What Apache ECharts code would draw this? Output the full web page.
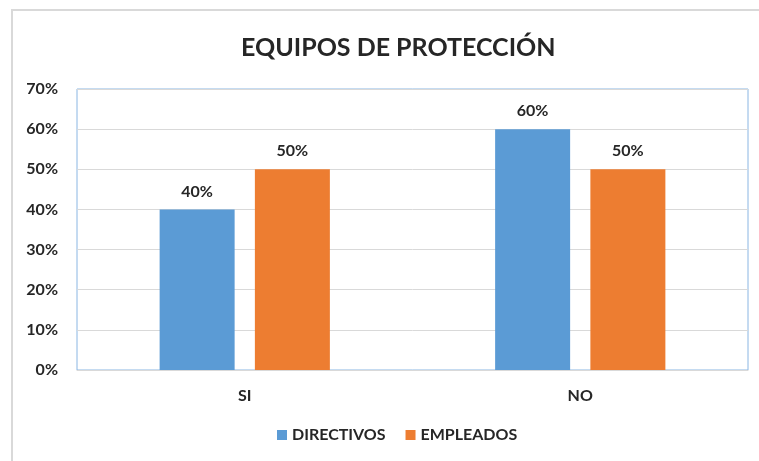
<!DOCTYPE html>
<html>
<head>
<meta charset="utf-8">
<script src="https://cdn.jsdelivr.net/npm/echarts@6/dist/echarts.min.js"></script>
<style>
  html, body { margin: 0; padding: 0; background: #fff; }
  #chart { width: 759px; height: 461px; }
</style>
</head>
<body>
<div id="chart"></div>
<script>
// datos del gráfico
var categorias = ['SI', 'NO'];
var directivos = [40, 60];
var empleados = [50, 50];
var yTicks = [0, 10, 20, 30, 40, 50, 60, 70];

var chart = echarts.init(document.getElementById('chart'));

var etiqueta = {
    show: true,
    position: 'top',
    distance: 10,
    formatter: '{c}%',
    color: '#262626',
    fontFamily: 'Lato',
    fontWeight: 'bold',
    fontSize: 16
};

var option = {
    backgroundColor: '#fff',
    textStyle: { fontFamily: 'Lato' },
    graphic: [{
        type: 'rect',
        shape: { x: 12, y: 10, width: 760, height: 470 },
        style: { fill: 'none', stroke: '#d9d9d9', lineWidth: 2 },
        silent: true
    }],
    title: {
        text: 'EQUIPOS DE PROTECCIÓN',
        left: 236,
        top: 30,
        textStyle: {
            fontFamily: 'Lato',
            fontWeight: 'bold',
            fontSize: 25,
            color: '#262626'
        }
    },
    grid: {
        left: 77,
        right: 11,
        top: 89,
        bottom: 91,
        show: true,
        borderColor: '#8ab6e3',
        borderWidth: 1,
        containLabel: false
    },
    legend: {
        bottom: 13,
        left: 272,
        itemWidth: 10,
        itemHeight: 10,
        itemGap: 20,
        icon: 'rect',
        textStyle: {
            fontFamily: 'Lato',
            fontWeight: 'bold',
            fontSize: 16,
            color: '#262626'
        },
        data: ['DIRECTIVOS', 'EMPLEADOS']
    },
    xAxis: {
        type: 'category',
        data: categorias,
        axisTick: { show: false },
        axisLine: { lineStyle: { color: '#d9d9d9' } },
        axisLabel: {
            margin: 18,
            fontFamily: 'Lato',
            fontWeight: 'bold',
            fontSize: 16,
            color: '#262626'
        }
    },
    yAxis: {
        type: 'value',
        min: yTicks[0],
        max: yTicks[yTicks.length - 1],
        interval: 10,
        axisLine: { show: false },
        axisTick: { show: false },
        splitLine: { lineStyle: { color: '#d9d9d9' } },
        axisLabel: {
            margin: 19,
            formatter: '{value}%',
            fontFamily: 'Lato',
            fontWeight: 'bold',
            fontSize: 16,
            color: '#262626'
        }
    },
    series: [{
        name: 'DIRECTIVOS',
        type: 'bar',
        data: directivos,
        barWidth: 75,
        barGap: '27%',
        itemStyle: { color: '#5b9bd5' },
        label: etiqueta
    }, {
        name: 'EMPLEADOS',
        type: 'bar',
        data: empleados,
        barWidth: 75,
        itemStyle: { color: '#ed7d31' },
        label: etiqueta
    }]
};

chart.setOption(option);
</script>
</body>
</html>
